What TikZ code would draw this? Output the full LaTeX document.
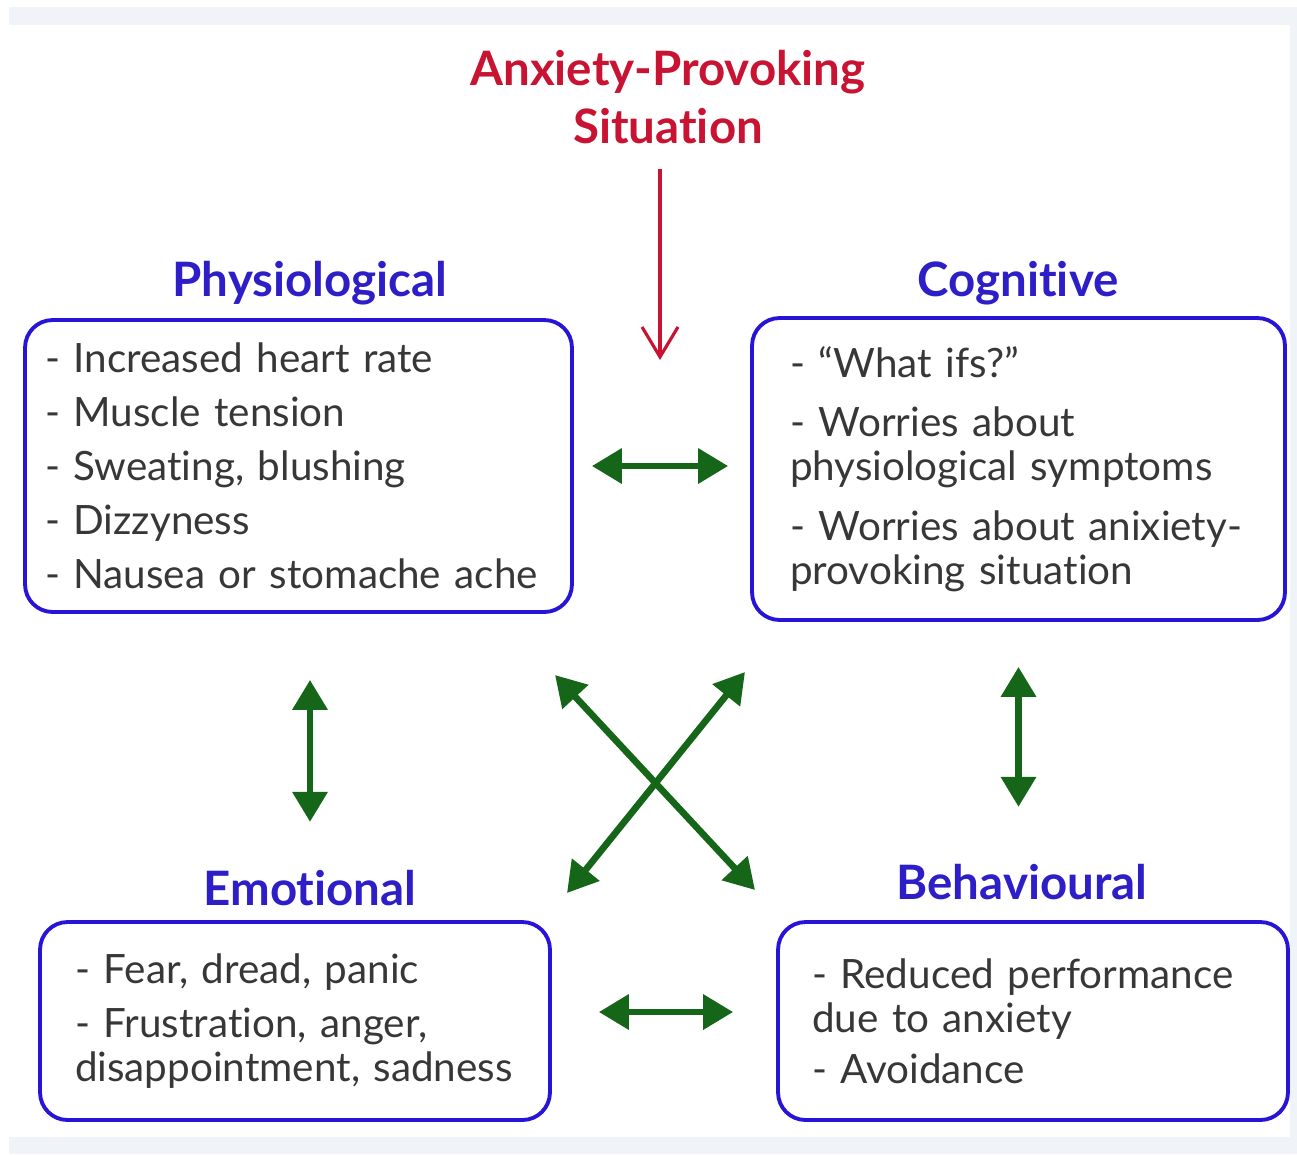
\documentclass[tikz,border=0pt]{standalone}
\usepackage{fontspec}
\setmainfont{Lato}[Ligatures={TeX,NoCommon}]
\usetikzlibrary{arrows.meta, positioning, calc}
\usepackage{xcolor}
\definecolor{tblue}{RGB}{45,30,200}
\definecolor{bblue}{RGB}{40,20,215}
\definecolor{sred}{RGB}{200,20,50}
\definecolor{dgreen}{RGB}{22,102,26}
\definecolor{tgray}{RGB}{55,55,55}
\definecolor{band}{RGB}{240,244,248}

\begin{document}
\begin{tikzpicture}[x=0.02cm, y=-0.02cm,
                    head/.style={font=\fontsize{27}{33}\selectfont\bfseries,text=tblue,inner sep=0pt},
                    box/.style={draw=bblue,line width=2.2pt,rounded corners=0.55cm,text=tgray,
                    align=left,font=\fontsize{23}{25}\selectfont,inner ysep=0pt},
                    arr/.style={{Triangle[length=0.6cm,width=0.68cm]}-{Triangle[length=0.6cm,width=0.68cm]},dgreen,line width=3.8pt},
                    trig/.style={-{Straight Barb[length=0.6cm,width=0.72cm]},sred,line width=1.8pt}
]
\useasboundingbox (0,0) rectangle (1297,1154);
\fill[band] (9,7) rectangle (1297,25);
\fill[band] (9,1137) rectangle (1297,1154);
\fill[band] (1290,25) rectangle (1297,1137);

\node[head,text=sred,align=center] (situation) at (668,97) {Anxiety-Provoking\\Situation};

\node[head] (physioT) at (310,283) {Physiological};
\node[head] (cognT) at (1018,283) {Cognitive};
\node[head] (emotT) at (310,888) {Emotional};
\node[head] (behavT) at (1022,882) {Behavioural};

\node[box,inner xsep=0.4cm,text width=10.14cm,minimum height=5.84cm] (physio) at (298.5,466)
  {- Increased heart rate\\[5.7pt]- Muscle tension\\[5.7pt]- Sweating, blushing\\[5.7pt]- Dizzyness\\[5.7pt]- Nausea or stomache ache};
\node[box,inner xsep=0.76cm,text width=9.14cm,minimum height=6.04cm] (cogn) at (1018.5,469)
  {- ``What ifs?''\\[9pt]- Worries about\\physiological symptoms\\[9pt]- Worries about anixiety-\\provoking situation};
\node[box,inner xsep=0.7cm,text width=8.8cm,minimum height=3.96cm] (emot) at (295,1021)
  {- Fear, dread, panic\\[5.7pt]- Frustration, anger,\\disappointment, sadness};
\node[box,inner xsep=0.68cm,text width=8.84cm,minimum height=3.96cm] (behav) at (1033,1021)
  {- Reduced performance\\due to anxiety\\[4pt]- Avoidance};

\coordinate (hit) at (660,360);
\draw[trig,shorten <=0.5cm] (situation.south -| hit) -- (hit);

\draw[arr,shorten <=0.36cm,shorten >=0.44cm] (physio.east) -- (physio.east -| cogn.west);
\draw[arr,shorten <=0.94cm,shorten >=0.86cm] ([yshift=0.18cm]emot.east) -- ([yshift=0.18cm]behav.west);
\draw[arr,shorten <=1.32cm,shorten >=0.96cm] (physio.south -| emotT) -- (emotT.north);
\draw[arr,shorten <=0.9cm,shorten >=1.14cm] (cogn.south) -- (cogn.south |- behavT.north);

% crossing arrows
\coordinate (xa) at (555,675);
\coordinate (xb) at (755,890);
\coordinate (xc) at (745,672);
\coordinate (xd) at (567,893);
\draw[arr] (xa) -- (xb);
\draw[arr] (xc) -- (xd);
\end{tikzpicture}
\end{document}
